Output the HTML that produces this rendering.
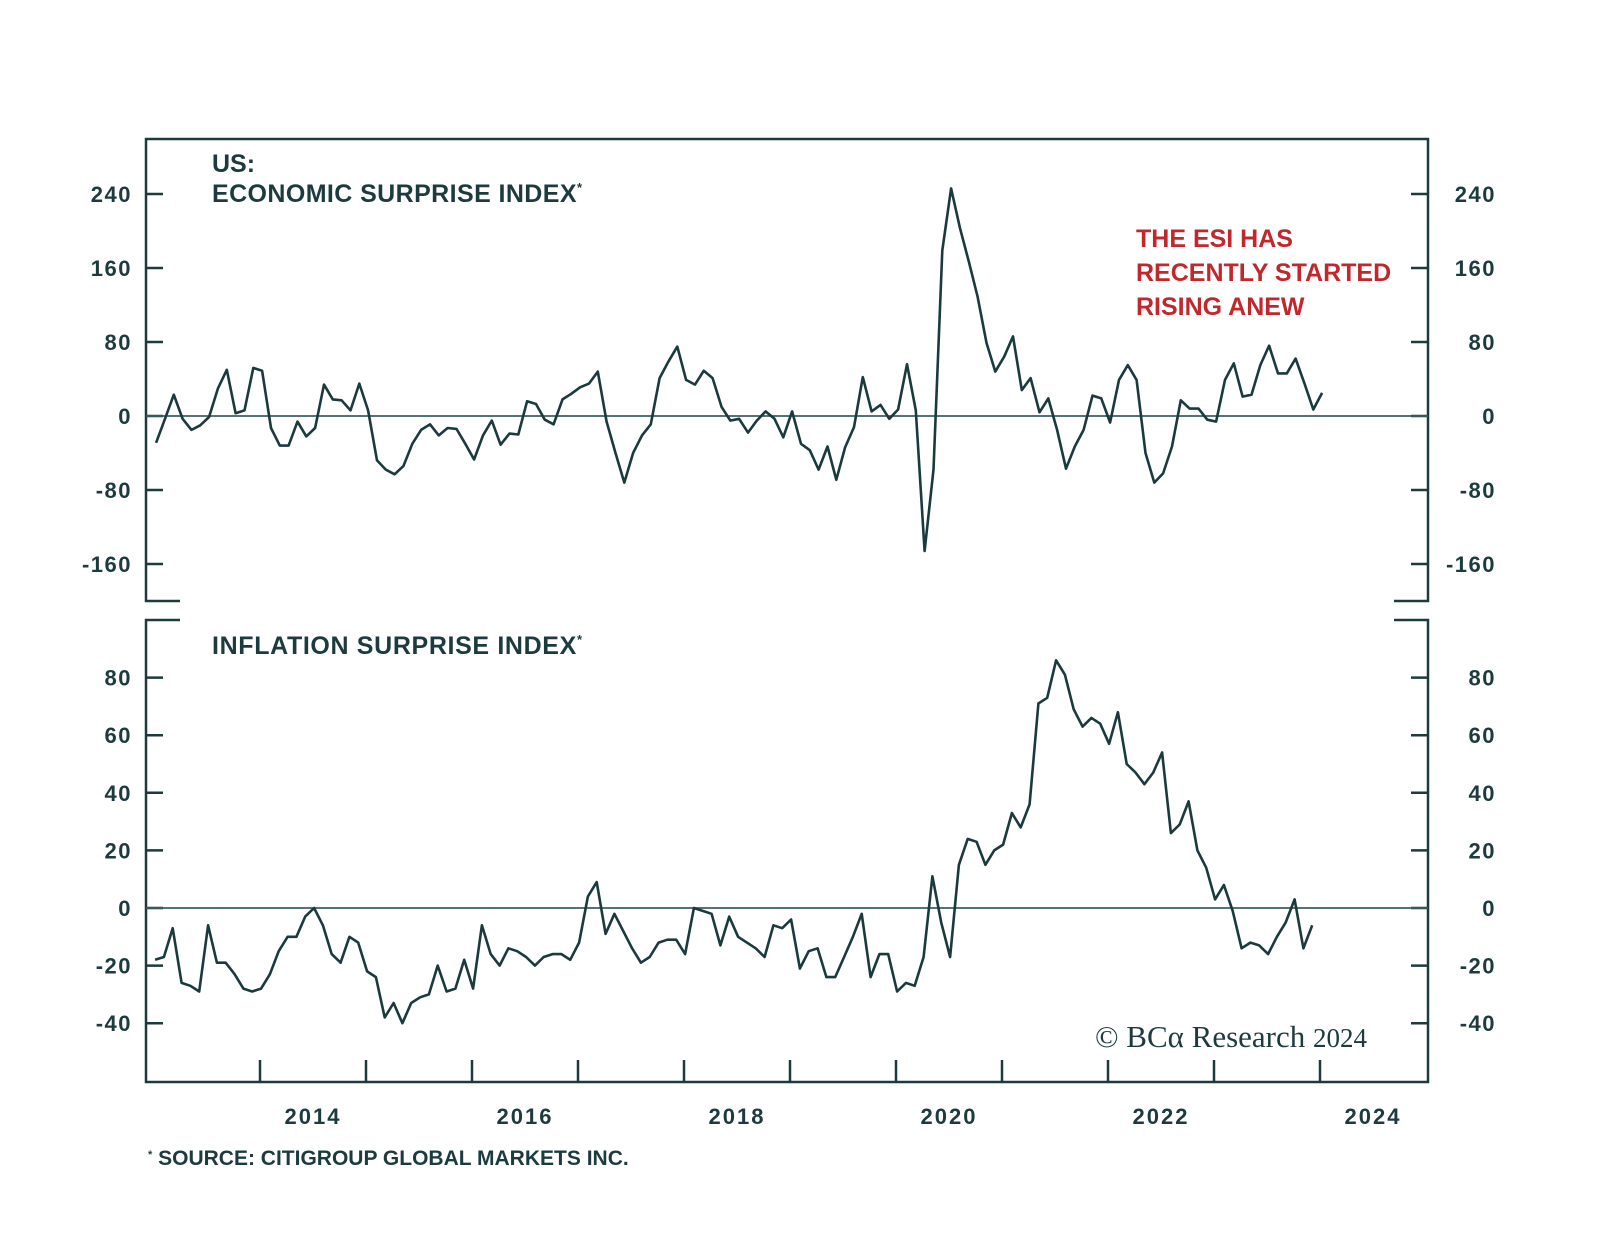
<!DOCTYPE html>
<html><head><meta charset="utf-8"><style>
html,body{margin:0;padding:0;background:#fff;}
svg{display:block;}
text{font-family:"Liberation Sans",sans-serif;fill:#1d3b3f;}
</style></head><body>
<svg id="chart" width="1600" height="1246" viewBox="0 0 1600 1246">
<g id="frame"></g>
<g id="esiLayer"></g>
<g id="isiLayer"></g>
<text x="212" y="172" font-size="25" font-weight="bold">US:</text>
<text x="212" y="202" font-size="25" font-weight="bold" textLength="370">ECONOMIC SURPRISE INDEX<tspan font-size="13" dy="-10">*</tspan></text>
<text x="212" y="654" font-size="25" font-weight="bold" textLength="370">INFLATION SURPRISE INDEX<tspan font-size="13" dy="-10">*</tspan></text>
<g font-size="25" font-weight="bold">
<text x="1136" y="247" style="fill:#c0282d">THE ESI HAS</text>
<text x="1136" y="281" style="fill:#c0282d">RECENTLY STARTED</text>
<text x="1136" y="315" style="fill:#c0282d">RISING ANEW</text>
</g>
<text x="1095" y="1047" font-size="31" style="font-family:'Liberation Serif',serif">© BCα Research <tspan font-size="27">2024</tspan></text>
<text x="148" y="1165" font-size="21" font-weight="bold"><tspan font-size="11" dy="-7">*</tspan><tspan dy="7"> SOURCE: CITIGROUP GLOBAL MARKETS INC.</tspan></text>
</svg>
<script>
// ---- data ----
const esiStart = 2012.52;           // first month (decimal year), monthly steps
const esiValues = [-29,-3,23,-3,-15,-10,-1,30,50,3,6,52,49,-13,-32,-32,-6,-22,-13,34,18,17,6,35,6,-48,-58,-63,-54,-30,-15,-9,-21,-13,-14,-30,-47,-21,-5,-31,-19,-20,16,13,-4,-9,18,24,31,35,48,-6,-40,-72,-40,-21,-9,41,59,75,39,34,49,41,10,-5,-3,-18,-5,5,-3,-23,5,-30,-37,-58,-33,-69,-34,-12,42,5,12,-3,7,56,6,-146,-58,179,246,203,167,129,79,48,64,86,28,41,4,19,-15,-57,-33,-15,22,19,-7,39,55,39,-40,-72,-62,-33,17,8,8,-4,-6,39,57,21,23,55,76,46,46,62,35,7,25];
const isiStart = 2012.51;
const isiValues = [-18,-17,-7,-26,-27,-29,-6,-19,-19,-23,-28,-29,-28,-23,-15,-10,-10,-3,0,-6,-16,-19,-10,-12,-22,-24,-38,-33,-40,-33,-31,-30,-20,-29,-28,-18,-28,-6,-16,-20,-14,-15,-17,-20,-17,-16,-16,-18,-12,4,9,-9,-2,-8,-14,-19,-17,-12,-11,-11,-16,0,-1,-2,-13,-3,-10,-12,-14,-17,-6,-7,-4,-21,-15,-14,-24,-24,-17,-10,-2,-24,-16,-16,-29,-26,-27,-17,11,-5,-17,15,24,23,15,20,22,33,28,36,71,73,86,81,69,63,66,64,57,68,50,47,43,47,54,26,29,37,20,14,3,8,-1,-14,-12,-13,-16,-10,-5,3,-14,-6];
const esiTicks = [240,160,80,0,-80,-160];
const isiTicks = [80,60,40,20,0,-20,-40];
const yearLabels = [2014,2016,2018,2020,2022,2024];
const yearTicks = [2013.5,2014.5,2015.5,2016.5,2017.5,2018.5,2019.5,2020.5,2021.5,2022.5,2023.5];

// ---- axes ----
const L=146,R=1428;
const xS = t => 1161 + (t-2022)*106;
const yE = v => 416 - v*74/80;
const yI = v => 908 - v*57.6/20;
const NS='http://www.w3.org/2000/svg';
const C='#1d3b3f';
function mk(tag,at,parent){const e=document.createElementNS(NS,tag);for(const k in at)e.setAttribute(k,at[k]);parent.appendChild(e);return e;}
const frame=document.getElementById('frame');
const esiG=document.getElementById('esiLayer');
const isiG=document.getElementById('isiLayer');

let fp=mk('path',{d:`M${L+34},601 H${L} V139 H${R} V601 H${R-34}`,fill:'none',stroke:C,'stroke-width':2.5},frame);


let fp2=mk('path',{d:`M${L+34},620 H${L} V1082 H${R} V620 H${R-34}`,fill:'none',stroke:C,'stroke-width':2.5},frame);



function yAxis(ticks,yf,g,nm){
  ticks.forEach(v=>{
    const y=yf(v);
    let t1=mk('line',{x1:L,x2:L+17,y1:y,y2:y,stroke:C,'stroke-width':2.5},g);
    
    
    let t2=mk('line',{x1:R-17,x2:R,y1:y,y2:y,stroke:C,'stroke-width':2.5},g);
    
    
    let a=mk('text',{x:132,y:y+8,'text-anchor':'end','font-size':22,'font-weight':'bold','letter-spacing':1.5},g);a.textContent=v;
    
    
    let b=mk('text',{x:1496,y:y+8,'text-anchor':'end','font-size':22,'font-weight':'bold','letter-spacing':1.5},g);b.textContent=v;
    
    
  });
  let z=mk('line',{x1:L,x2:R,y1:yf(0),y2:yf(0),stroke:'#3d5e60','stroke-width':1.8},g);
  
  
}
yAxis(esiTicks,yE,esiG,'esi');
yAxis(isiTicks,yI,isiG,'isi');

yearTicks.forEach(t=>{
  let l=mk('line',{x1:xS(t),x2:xS(t),y1:1060,y2:1082,stroke:C,'stroke-width':2.5},frame);
  
  
});
yearLabels.forEach(yr=>{
  let t=mk('text',{x:xS(yr),y:1124,'text-anchor':'middle','font-size':22,'font-weight':'bold','letter-spacing':2},frame);
  t.textContent=yr;
  
  
});

function series(vals,start,yf,g,nm){
  const pts=vals.map((v,i)=>xS(start+i/12).toFixed(1)+','+yf(v).toFixed(1)).join(' ');
  let p=mk('polyline',{points:pts,fill:'none',stroke:'#1a3a3e','stroke-width':2.6,'stroke-linejoin':'round'},g);
  
  
}
series(esiValues,esiStart,yE,esiG,'esi-line');
series(isiValues,isiStart,yI,isiG,'isi-line');
</script>
</body></html>
